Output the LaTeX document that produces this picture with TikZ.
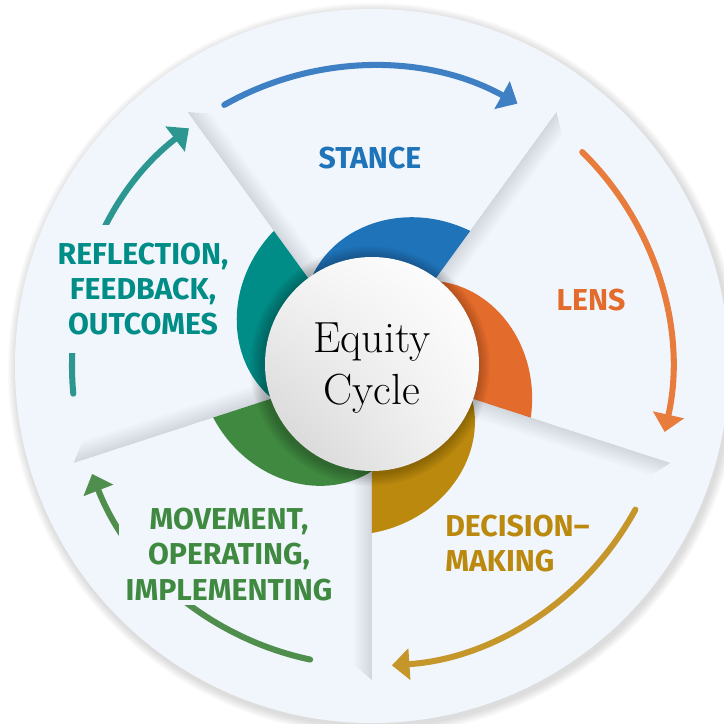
\documentclass[tikz,border=0pt]{standalone}
\usepackage{fontspec}
\newfontfamily\labelfont{Fira Sans}
\usetikzlibrary{arrows.meta,positioning,shadings}

\definecolor{panel}{HTML}{F1F6FC}
\definecolor{stanceblue}{HTML}{1F73B8}
\definecolor{stancearrow}{HTML}{3F7FC3}
\definecolor{lensorange}{HTML}{E36B2B}
\definecolor{lensarrow}{HTML}{E77C3D}
\definecolor{decisiongold}{HTML}{BA890D}
\definecolor{decisionarrow}{HTML}{C5972B}
\definecolor{movegreen}{HTML}{3F8A40}
\definecolor{movearrow}{HTML}{4F8E4C}
\definecolor{reflectteal}{HTML}{008C87}
\definecolor{reflectarrow}{HTML}{2C9691}

\tikzset{
  flow/.style={line width=4.3pt, line cap=round,
    -{Triangle[length=12.5pt,width=22pt]}},
  stage/.style={font=\labelfont\bfseries\fontsize{21.5}{25}\selectfont,
    align=center, inner sep=0pt},
}

\begin{document}
\begin{tikzpicture}[scale=0.025]
  \useasboundingbox (-372,-358) rectangle (352,366);
  \clip (-372,-358) rectangle (352,366);

  %% outer disc with a soft rim
  \foreach \k in {1,...,6}
    \fill[black, opacity=0.025] (2,-3) circle ({357+\k*1.5});
  \fill[panel] (0,0) circle (357);

  %% pinwheel blades, thick end on the first spoke
  \foreach \a/\col in {54/stanceblue, -18/lensorange, -90/decisiongold,
                       198/movegreen, 126/reflectteal} {
    \fill[\col] (0,0) -- plot[domain=0:72, samples=30, smooth]
      ({\a+\x}:{105+62*(1-\x/72)*(1+0.4*\x/72)}) -- cycle;
  }

  %% shadows along the five spokes
  \foreach \a in {54,126,198,270,342} {
    \begin{scope}[rotate=\a]
      \foreach \k in {1,...,10}
        \fill[black, opacity=0.011] (100,0) -- (314,0)
          -- ({314-\k*1.5},{-\k*1.8}) -- (100,{-\k*1.8}) -- cycle;
    \end{scope}
  }

  %% arrows round the cycle
  \draw[flow, stancearrow] (119.5:300) arc[start angle=119.5, end angle=61, radius=300];
  \draw[flow, lensarrow] (45.5:300) arc[start angle=45.5, end angle=-12.7, radius=300];
  \draw[flow, decisionarrow] (-28.6:300) arc[start angle=-28.6, end angle=-86.2, radius=300];
  \draw[flow, movearrow] (258.1:300) arc[start angle=258.1, end angle=201.1, radius=300];
  \draw[flow, reflectarrow] (185.3:300) arc[start angle=185.3, end angle=127.6, radius=300];

  %% centre disc
  \foreach \k in {1,...,8}
    \fill[black, opacity=0.03] (-2,0) circle ({107+\k*1.6});
  \shade[upper right=white, upper left=white!96!black,
         lower right=white!96!black, lower left=white!82!black]
    (0,2) circle (107);
  \node[align=center, font=\fontsize{31}{37}\selectfont] (equity) at (0,-2)
    {Equity\\Cycle};

  %% stage labels
  \node[stage, text=stanceblue] (stance) at (-2,208) {STANCE};
  \node[stage, text=lensorange] (lens) at (219,66) {LENS};
  \node[stage, text=decisiongold, align=left, anchor=west] (decision)
    at (73,-177.5) {DECISION–\\MAKING};
  \node[stage, text=movegreen, fill=panel, inner xsep=5pt, inner ysep=3pt]
    (movement) at (-143,-188.5) {MOVEMENT,\\OPERATING,\\IMPLEMENTING};
  \node[stage, text=reflectteal, fill=panel, inner xsep=5pt, inner ysep=13pt]
    (reflection) at (-229,77) {REFLECTION,\\FEEDBACK,\\OUTCOMES};
\end{tikzpicture}
\end{document}
